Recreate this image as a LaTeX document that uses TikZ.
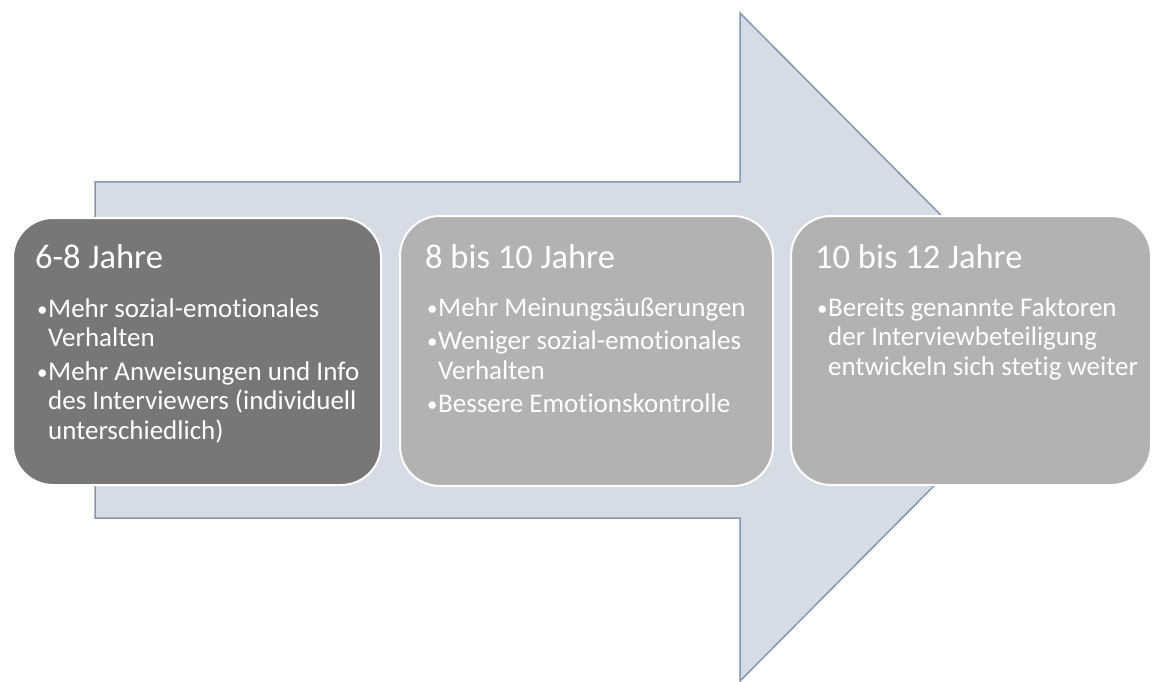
\documentclass[tikz,border=0pt]{standalone}
\usepackage{fontspec}
\setmainfont{Carlito}[Ligatures=NoCommon]
\definecolor{arrowfill}{HTML}{D6DCE5}
\definecolor{arrowline}{HTML}{8497B0}
\definecolor{darkbox}{HTML}{777777}
\definecolor{lightbox}{HTML}{B2B2B2}
\newcommand{\bitem}[1]{\par\hangindent=11pt\hangafter=1\noindent\makebox[11pt][l]{\raisebox{1pt}{\fontsize{21}{21}\selectfont\textbullet}}#1}
\newcommand{\gap}{\par\vspace{4pt}}
\tikzset{
  stage/.style={draw=white, line width=2pt, rounded corners=40pt, inner sep=0pt, anchor=north west},
  titletext/.style={anchor=base west, inner sep=0pt, text=white, font=\fontsize{34.5}{40}\selectfont},
  bodytext/.style={anchor=base west, inner sep=0pt, text=white, font=\fontsize{27}{29.5}\selectfont},
}
\begin{document}
\begin{tikzpicture}[x=1pt,y=-1pt]
\useasboundingbox (0,0) rectangle (1160,682);
\filldraw[fill=arrowfill, draw=arrowline, line width=1.5pt]
  (95,182) -- (740,182) -- (740,13) -- (1072,347) -- (740,681) -- (740,518) -- (95,518) -- cycle;
\node[stage, fill=darkbox, minimum width=368pt, minimum height=267pt] (b1) at (12,217) {};
\node[stage, fill=lightbox, minimum width=373pt, minimum height=270pt] (b2) at (399,215) {};
\node[stage, fill=lightbox, minimum width=360pt, minimum height=269pt] (b3) at (790,215) {};
\node[titletext] (t1) at (35,268) {6-8 Jahre};
\node[titletext] (t2) at (425,268) {8 bis 10 Jahre};
\node[titletext] (t3) at (815,268) {10 bis 12 Jahre};
\node[bodytext] (l1) at (37,317) {\parbox[t]{340pt}{%
  \bitem{Mehr sozial-emotionales\\Verhalten}\gap
  \bitem{Mehr Anweisungen und Info\\des Interviewers (individuell\\unterschiedlich)}}};
\node[bodytext] (l2) at (427,316) {\parbox[t]{340pt}{%
  \bitem{Mehr Meinungsäußerungen}\gap
  \bitem{Weniger sozial-emotionales\\Verhalten}\gap
  \bitem{Bessere Emotionskontrolle}}};
\node[bodytext] (l3) at (817,316) {\parbox[t]{340pt}{%
  \bitem{Bereits genannte Faktoren\\der Interviewbeteiligung\\entwickeln sich stetig weiter}}};
\end{tikzpicture}
\end{document}
